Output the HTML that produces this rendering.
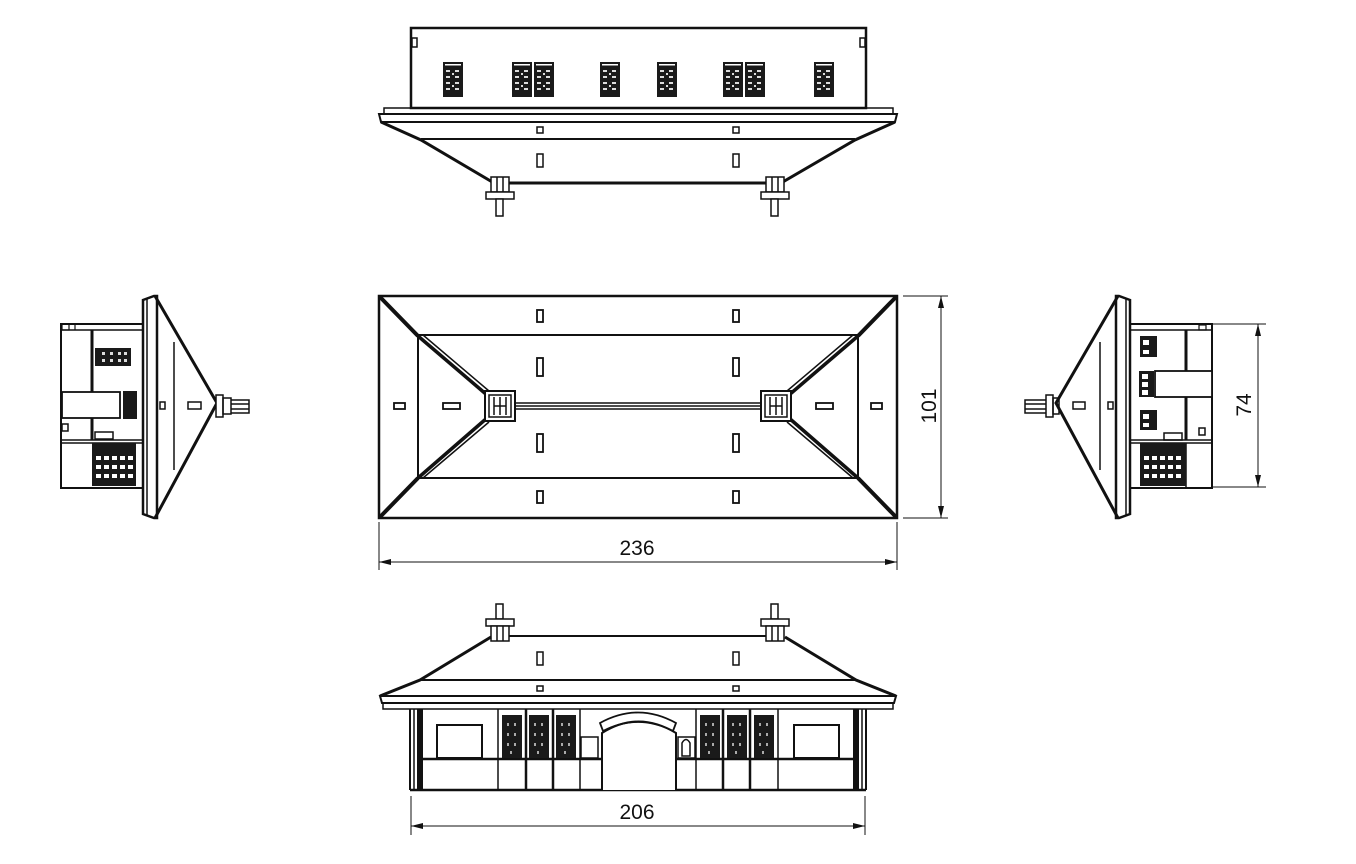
<!DOCTYPE html>
<html><head><meta charset="utf-8"><style>
html,body{margin:0;padding:0;background:#fff;}
svg{display:block;}
text{font-family:"Liberation Sans",sans-serif;font-size:21px;fill:#111;}
</style></head><body>
<svg width="1356" height="864" viewBox="0 0 1356 864" xmlns="http://www.w3.org/2000/svg">
<defs>
<marker id="ar" viewBox="0 0 12 6" refX="12" refY="3" markerWidth="12" markerHeight="6" orient="auto-start-reverse" markerUnits="userSpaceOnUse"><path d="M0,0 L12,3 L0,6 z" fill="#111"/></marker>
<g id="win">
<rect x="0" y="0" width="20" height="35" fill="#1a1a1a"/>
<rect x="2" y="2" width="16" height="1.5" fill="#fff"/>
<g fill="#ddd"><rect x="3" y="8" width="4" height="2"/><rect x="12" y="8" width="4" height="2"/><rect x="3" y="14" width="4" height="2"/><rect x="12" y="14" width="4" height="2"/><rect x="3" y="20" width="4" height="2"/><rect x="12" y="20" width="4" height="2"/><rect x="3" y="26" width="4" height="2"/><rect x="12" y="26" width="4" height="2"/><rect x="9" y="11" width="2" height="2"/><rect x="9" y="23" width="2" height="2"/></g>
</g>
<g id="fwin">
<rect x="0" y="0" width="20" height="43" fill="#1a1a1a"/>
<g fill="#aaa"><rect x="5" y="8" width="2" height="3"/><rect x="12" y="8" width="2" height="3"/><rect x="5" y="18" width="2" height="3"/><rect x="12" y="18" width="2" height="3"/><rect x="5" y="28" width="2" height="3"/><rect x="12" y="28" width="2" height="3"/><rect x="8" y="36" width="2" height="3"/></g>
</g>
</defs>

<g stroke="#111" fill="none" stroke-width="2">
<!-- ===== TOP (rear elevation) ===== -->
<rect x="411" y="28" width="455" height="80" stroke-width="2.5"/>
<rect x="412" y="38" width="5" height="9" stroke-width="1.5"/>
<rect x="860" y="38" width="5" height="9" stroke-width="1.5"/>
<rect x="384" y="108" width="509" height="6" stroke-width="1.5"/>
<path d="M379,114 H897 L895,122 H381 Z" stroke-width="2"/>
<path d="M381,122 L421,140 L494,183 H781 L855,140 L895,122" stroke-width="3"/>
<line x1="421" y1="139" x2="855" y2="139" stroke-width="2"/>
<rect x="537" y="127" width="6" height="6" stroke-width="1.5"/>
<rect x="733" y="127" width="6" height="6" stroke-width="1.5"/>
<rect x="537" y="154" width="6" height="13" stroke-width="1.5"/>
<rect x="733" y="154" width="6" height="13" stroke-width="1.5"/>
<g stroke-width="1.5" fill="#fff">
<rect x="491" y="177" width="18" height="15"/><line x1="497" y1="177" x2="497" y2="192"/><line x1="503" y1="177" x2="503" y2="192"/>
<rect x="486" y="192" width="28" height="7"/><rect x="496" y="199" width="7" height="17"/>
<rect x="766" y="177" width="18" height="15"/><line x1="772" y1="177" x2="772" y2="192"/><line x1="778" y1="177" x2="778" y2="192"/>
<rect x="761" y="192" width="28" height="7"/><rect x="771" y="199" width="7" height="17"/>
</g>
</g>
<use href="#win" x="443" y="62"/>
<use href="#win" x="512" y="62"/><use href="#win" x="534" y="62"/>
<use href="#win" x="600" y="62"/>
<use href="#win" x="657" y="62"/>
<use href="#win" x="723" y="62"/><use href="#win" x="745" y="62"/>
<use href="#win" x="814" y="62"/>

<!-- ===== PLAN ===== -->
<g stroke="#111" fill="none">
<rect x="379" y="296" width="518" height="222" stroke-width="2.5"/>
<rect x="418" y="335" width="440" height="143" stroke-width="2"/>
<g stroke-width="4">
<line x1="380" y1="297" x2="418" y2="336"/><line x1="896" y1="297" x2="858" y2="336"/>
<line x1="380" y1="517" x2="418" y2="478"/><line x1="896" y1="517" x2="858" y2="478"/>
</g>
<g stroke-width="1.5">
<path d="M418,336 L486,393 M423,335 L489,391"/>
<path d="M418,478 L486,420 M423,478 L489,422"/>
<path d="M858,336 L790,393 M853,335 L787,391"/>
<path d="M858,478 L790,420 M853,478 L787,422"/>
</g>
<g stroke-width="3.5">
<line x1="418" y1="336" x2="487" y2="395"/><line x1="418" y1="478" x2="487" y2="418"/>
<line x1="858" y1="336" x2="789" y2="395"/><line x1="858" y1="478" x2="789" y2="418"/>
</g>
<rect x="485" y="391" width="30" height="30" stroke-width="2" fill="#fff"/>
<rect x="489" y="395" width="22" height="22" stroke-width="1.5"/>
<rect x="761" y="391" width="30" height="30" stroke-width="2" fill="#fff"/>
<rect x="765" y="395" width="22" height="22" stroke-width="1.5"/>
<path d="M494,397 V415 M500,397 V415 M494,406 H506 M506,397 V415" stroke-width="1.5"/>
<path d="M770,397 V415 M776,397 V415 M770,406 H782 M782,397 V415" stroke-width="1.5"/>
<path d="M515,403 H761 M515,406 H761 M515,409 H761" stroke-width="1.5"/>
<g stroke-width="1.8">
<rect x="537" y="310" width="6" height="12"/><rect x="733" y="310" width="6" height="12"/>
<rect x="537" y="358" width="6" height="18"/><rect x="733" y="358" width="6" height="18"/>
<rect x="537" y="434" width="6" height="18"/><rect x="733" y="434" width="6" height="18"/>
<rect x="537" y="491" width="6" height="12"/><rect x="733" y="491" width="6" height="12"/>
<rect x="394" y="403" width="11" height="6"/><rect x="443" y="403" width="17" height="6"/>
<rect x="816" y="403" width="17" height="6"/><rect x="871" y="403" width="11" height="6"/>
</g>
<!-- dims -->
<g stroke-width="1">
<line x1="903" y1="296" x2="948" y2="296"/><line x1="903" y1="518" x2="948" y2="518"/>
<line x1="941" y1="296" x2="941" y2="518" marker-start="url(#ar)" marker-end="url(#ar)"/>
<line x1="379" y1="522" x2="379" y2="570"/><line x1="897" y1="522" x2="897" y2="570"/>
<line x1="379" y1="562" x2="897" y2="562" marker-start="url(#ar)" marker-end="url(#ar)"/>
<line x1="1213" y1="324" x2="1266" y2="324"/><line x1="1213" y1="487" x2="1266" y2="487"/>
<line x1="1258" y1="324" x2="1258" y2="487" marker-start="url(#ar)" marker-end="url(#ar)"/>
<line x1="411" y1="796" x2="411" y2="835"/><line x1="865" y1="796" x2="865" y2="835"/>
<line x1="411" y1="826" x2="865" y2="826" marker-start="url(#ar)" marker-end="url(#ar)"/>
</g>
</g>
<text x="637" y="555" text-anchor="middle">236</text>
<text x="0" y="0" text-anchor="middle" transform="translate(936,406) rotate(-90)">101</text>
<text x="0" y="0" text-anchor="middle" transform="translate(1251,405) rotate(-90)">74</text>
<text x="637" y="819" text-anchor="middle">206</text>

<!-- ===== LEFT SIDE ===== -->
<g stroke="#111" fill="none">
<path d="M143,300 L154,296 L157,296 V518 L154,518 L143,514 Z" stroke-width="2.5"/>
<line x1="147" y1="299" x2="147" y2="515" stroke-width="1.5"/>
<path d="M155,296 L217,403 L155,518" stroke-width="3"/>
<line x1="174" y1="342" x2="174" y2="470" stroke-width="1.5"/>
<rect x="160" y="402" width="5" height="7" stroke-width="1.5"/>
<rect x="188" y="402" width="13" height="7" stroke-width="1.5"/>
<rect x="216" y="395" width="7" height="22" stroke-width="1.5" fill="#fff"/>
<rect x="223" y="398" width="8" height="16" stroke-width="1.5"/>
<path d="M231,400 H249 V413 H231 M231,404 H249 M231,409 H249" stroke-width="1.5"/>
<rect x="61" y="324" width="82" height="164" stroke-width="2"/>
<line x1="61" y1="330" x2="143" y2="330" stroke-width="1.5"/>
<rect x="62" y="324" width="7" height="6" stroke-width="1.2"/>
<line x1="75" y1="324" x2="75" y2="330" stroke-width="1.2"/>
<line x1="92" y1="330" x2="92" y2="440" stroke-width="3"/>
<rect x="62" y="392" width="58" height="26" stroke-width="1.8" fill="#fff"/>
<rect x="62" y="424" width="6" height="7" stroke-width="1.5"/>
<rect x="95" y="432" width="18" height="7" stroke-width="1.5"/>
<line x1="61" y1="440" x2="143" y2="440" stroke-width="1.5"/>
<line x1="61" y1="443" x2="143" y2="443" stroke-width="1.5"/>
</g>
<rect x="95" y="348" width="36" height="18" fill="#1a1a1a"/>
<g fill="#ddd"><rect x="102" y="352" width="3" height="3"/><rect x="110" y="352" width="3" height="3"/><rect x="118" y="352" width="3" height="3"/><rect x="124" y="352" width="3" height="3"/><rect x="102" y="359" width="3" height="3"/><rect x="110" y="359" width="3" height="3"/><rect x="118" y="359" width="3" height="3"/><rect x="124" y="359" width="3" height="3"/></g>
<rect x="123" y="391" width="14" height="28" fill="#1a1a1a"/>
<rect x="92" y="443" width="44" height="43" fill="#1a1a1a"/>
<g fill="#fff">
<rect x="96" y="456" width="5" height="4"/><rect x="104" y="456" width="5" height="4"/><rect x="112" y="456" width="5" height="4"/><rect x="120" y="456" width="5" height="4"/><rect x="128" y="456" width="5" height="4"/>
<rect x="96" y="465" width="5" height="4"/><rect x="104" y="465" width="5" height="4"/><rect x="112" y="465" width="5" height="4"/><rect x="120" y="465" width="5" height="4"/><rect x="128" y="465" width="5" height="4"/>
<rect x="96" y="474" width="5" height="4"/><rect x="104" y="474" width="5" height="4"/><rect x="112" y="474" width="5" height="4"/><rect x="120" y="474" width="5" height="4"/><rect x="128" y="474" width="5" height="4"/>
</g>

<!-- ===== RIGHT SIDE ===== -->
<g stroke="#111" fill="none">
<path d="M1130,300 L1119,296 L1116,296 V518 L1119,518 L1130,514 Z" stroke-width="2.5"/>
<line x1="1126" y1="299" x2="1126" y2="515" stroke-width="1.5"/>
<path d="M1118,296 L1056,403 L1118,518" stroke-width="3"/>
<line x1="1100" y1="342" x2="1100" y2="470" stroke-width="1.5"/>
<rect x="1108" y="402" width="5" height="7" stroke-width="1.5"/>
<rect x="1073" y="402" width="12" height="7" stroke-width="1.5"/>
<rect x="1046" y="395" width="7" height="22" stroke-width="1.5" fill="#fff"/>
<rect x="1053" y="398" width="6" height="16" stroke-width="1.5"/>
<path d="M1046,400 H1025 V413 H1046 M1025,404 H1046 M1025,409 H1046" stroke-width="1.5"/>
<rect x="1130" y="324" width="82" height="164" stroke-width="2"/>
<line x1="1130" y1="330" x2="1212" y2="330" stroke-width="1.5"/>
<rect x="1199" y="325" width="7" height="5" stroke-width="1.2"/>
<line x1="1186" y1="330" x2="1186" y2="440" stroke-width="3"/>
<rect x="1155" y="371" width="57" height="26" stroke-width="1.8" fill="#fff"/>
<rect x="1199" y="428" width="6" height="7" stroke-width="1.5"/>
<rect x="1164" y="433" width="18" height="7" stroke-width="1.5"/>
<line x1="1130" y1="440" x2="1212" y2="440" stroke-width="1.5"/>
<line x1="1130" y1="443" x2="1212" y2="443" stroke-width="1.5"/>
<line x1="1186" y1="443" x2="1186" y2="488" stroke-width="1.5"/>
</g>
<rect x="1140" y="336" width="17" height="21" fill="#1a1a1a"/>
<rect x="1139" y="371" width="15" height="26" fill="#1a1a1a"/>
<rect x="1140" y="410" width="17" height="20" fill="#1a1a1a"/>
<g fill="#fff"><rect x="1143" y="340" width="6" height="5"/><rect x="1143" y="350" width="6" height="4"/><rect x="1142" y="374" width="6" height="5"/><rect x="1142" y="382" width="6" height="5"/><rect x="1142" y="390" width="6" height="5"/><rect x="1143" y="414" width="6" height="5"/><rect x="1143" y="423" width="6" height="4"/></g>
<rect x="1140" y="443" width="46" height="43" fill="#1a1a1a"/>
<g fill="#fff">
<rect x="1144" y="456" width="5" height="4"/><rect x="1152" y="456" width="5" height="4"/><rect x="1160" y="456" width="5" height="4"/><rect x="1168" y="456" width="5" height="4"/><rect x="1176" y="456" width="5" height="4"/>
<rect x="1144" y="465" width="5" height="4"/><rect x="1152" y="465" width="5" height="4"/><rect x="1160" y="465" width="5" height="4"/><rect x="1168" y="465" width="5" height="4"/><rect x="1176" y="465" width="5" height="4"/>
<rect x="1144" y="474" width="5" height="4"/><rect x="1152" y="474" width="5" height="4"/><rect x="1160" y="474" width="5" height="4"/><rect x="1168" y="474" width="5" height="4"/><rect x="1176" y="474" width="5" height="4"/>
</g>

<!-- ===== FRONT ===== -->
<g stroke="#111" fill="none">
<g stroke-width="1.5" fill="#fff">
<rect x="496" y="604" width="7" height="15"/><rect x="486" y="619" width="28" height="7"/>
<rect x="491" y="626" width="18" height="15"/><line x1="497" y1="626" x2="497" y2="641"/><line x1="503" y1="626" x2="503" y2="641"/>
<rect x="771" y="604" width="7" height="15"/><rect x="761" y="619" width="28" height="7"/>
<rect x="766" y="626" width="18" height="15"/><line x1="772" y1="626" x2="772" y2="641"/><line x1="778" y1="626" x2="778" y2="641"/>
</g>
<line x1="509" y1="636" x2="766" y2="636" stroke-width="2"/>
<path d="M491,637 L420,680 L380,696 M785,637 L856,680 L896,696" stroke-width="3"/>
<line x1="420" y1="680" x2="856" y2="680" stroke-width="2"/>
<rect x="537" y="652" width="6" height="13" stroke-width="1.5"/>
<rect x="733" y="652" width="6" height="13" stroke-width="1.5"/>
<rect x="537" y="686" width="6" height="5" stroke-width="1.5"/>
<rect x="733" y="686" width="6" height="5" stroke-width="1.5"/>
<path d="M380,696 H896 L894,703 H382 Z" stroke-width="2"/>
<rect x="383" y="703" width="510" height="6" stroke-width="1.5"/>
<line x1="410" y1="790" x2="866" y2="790" stroke-width="2.5"/>
<g id="fh">
<line x1="410" y1="709" x2="410" y2="790" stroke-width="2"/>
<line x1="414" y1="709" x2="414" y2="790" stroke-width="1.5"/>
<rect x="417" y="709" width="6" height="81" fill="#111" stroke="none"/>
<line x1="423" y1="759" x2="601" y2="759" stroke-width="2.5"/>
<rect x="437" y="725" width="45" height="33" stroke-width="2"/>
<line x1="498" y1="709" x2="498" y2="790" stroke-width="1.5"/>
<line x1="526" y1="709" x2="526" y2="790" stroke-width="2.5"/>
<line x1="553" y1="709" x2="553" y2="790" stroke-width="2.5"/>
<line x1="580" y1="709" x2="580" y2="790" stroke-width="1.5"/>
<rect x="581" y="737" width="17" height="21" stroke-width="1.5"/>
</g>
<use href="#fh" transform="translate(1276,0) scale(-1,1)"/>
<path d="M602,790 V733 Q638,710 676,733 V790" stroke-width="2" fill="#fff"/>
<path d="M600,723 Q638,702 676,723 L673,731 Q638,713 603,731 Z" stroke-width="1.8"/>
<path d="M682,756 V743 Q686,736 690,743 V756 Z" stroke-width="1.5"/>
</g>
<use href="#fwin" x="502" y="715"/><use href="#fwin" x="529" y="715"/><use href="#fwin" x="556" y="715"/>
<use href="#fwin" x="700" y="715"/><use href="#fwin" x="727" y="715"/><use href="#fwin" x="754" y="715"/>
</svg>
</body></html>
